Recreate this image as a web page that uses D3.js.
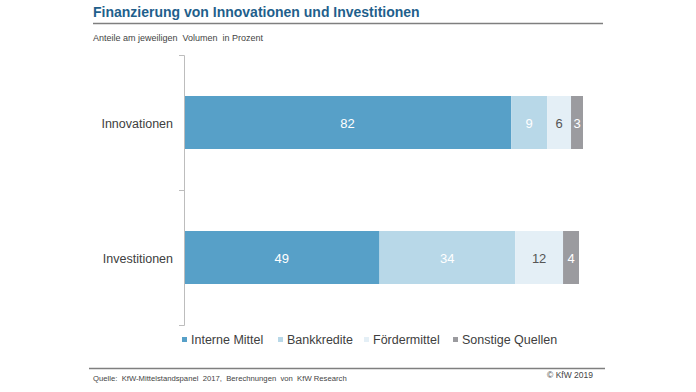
<!DOCTYPE html>
<html>
<head>
<meta charset="utf-8">
<script src="https://cdn.jsdelivr.net/npm/d3@7"></script>
<style>
  body { margin: 0; background: #fff; }
  svg { font-family: "Liberation Sans", Arial, sans-serif; }
</style>
</head>
<body>
<div id="chart"></div>
<script>
(function() {
// data
var categories = ["Innovationen", "Investitionen"];
var seriesNames = ["Interne Mittel", "Bankkredite", "Fördermittel", "Sonstige Quellen"];
var interneMittel = [82, 49];
var bankkredite = [9, 34];
var foerdermittel = [6, 12];
var sonstige = [3, 4];

var colors = ["#57a0c8", "#b8d8e8", "#e4eff6", "#9b9b9f"];
var labelColors = ["#fff", "#fff", "#555", "#fff"];

var width = 696,
    height = 392;

var svg = d3.select("#chart").append("svg")
    .attr("width", width)
    .attr("height", height);

// title + lines
svg.append("text")
    .attr("x", 93)
    .attr("y", 17)
    .style("font-size", "14px")
    .style("font-weight", "bold")
    .style("fill", "#1f5f8c")
    .text("Finanzierung von Innovationen und Investitionen");

svg.append("line")
    .attr("x1", 93).attr("x2", 603)
    .attr("y1", 23.5).attr("y2", 23.5)
    .style("stroke", "#7f7f7f")
    .style("stroke-width", 1.5);

svg.append("text")
    .attr("x", 93)
    .attr("y", 41)
    .style("font-size", "9px")
    .style("fill", "#444")
    .style("white-space", "pre")
    .text("Anteile am jeweiligen  Volumen  in Prozent");

// build stacked table
var rows = categories.map(function(c, i) {
    return {
        cat: c,
        values: [interneMittel[i], bankkredite[i], foerdermittel[i], sonstige[i]]
    };
});

var x = d3.scaleLinear()
    .domain([0, 100])
    .range([184, 583]);

var p = 1 - 53 / 135;
var y = d3.scaleBand()
    .domain(categories)
    .range([55, 325])
    .paddingInner(p)
    .paddingOuter(p / 2);

// bars
rows.forEach(function(r) {
    var acc = 0;
    var g = svg.append("g");
    r.values.forEach(function(v, j) {
        var x0 = x(acc), x1 = x(acc + v);
        g.append("rect")
            .attr("x", x0)
            .attr("y", y(r.cat))
            .attr("width", x1 - x0)
            .attr("height", y.bandwidth())
            .style("fill", colors[j]);
        g.append("text")
            .attr("x", (x0 + x1) / 2)
            .attr("y", y(r.cat) + y.bandwidth() / 2 + 5)
            .attr("text-anchor", "middle")
            .style("font-size", "13px")
            .style("fill", labelColors[j])
            .text(v);
        acc += v;
    });
});

// y axis
var axis = d3.axisLeft(d3.scaleLinear().domain([0, 2]).range([55, 325]))
    .ticks(2)
    .tickSize(5)
    .tickFormat("");
var ag = svg.append("g")
    .attr("transform", "translate(184,0)")
    .call(axis);
ag.selectAll("path, line").style("stroke", "#bdbdbd");

svg.append("g").selectAll("text")
    .data(categories)
    .enter()
    .append("text")
    .attr("x", 173)
    .attr("y", function(d) { return y(d) + y.bandwidth() / 2 + 5; })
    .attr("text-anchor", "end")
    .style("font-size", "12.5px")
    .style("fill", "#404040")
    .text(function(d) { return d; });

// legend
var legendX = [182, 278, 364, 453];
var legend = svg.append("g");
seriesNames.forEach(function(n, i) {
    legend.append("rect")
        .attr("x", legendX[i])
        .attr("y", 337)
        .attr("width", 5)
        .attr("height", 5)
        .style("fill", colors[i]);
    legend.append("text")
        .attr("x", legendX[i] + 9)
        .attr("y", 344)
        .style("font-size", "12.5px")
        .style("fill", "#404040")
        .text(n);
});

// footer
svg.append("line")
    .attr("x1", 89).attr("x2", 605)
    .attr("y1", 368.5).attr("y2", 368.5)
    .style("stroke", "#7f7f7f")
    .style("stroke-width", 1.5);

svg.append("text")
    .attr("x", 93)
    .attr("y", 381)
    .style("font-size", "7.7px")
    .style("fill", "#444")
    .style("white-space", "pre")
    .text("Quelle:  KfW-Mittelstandspanel  2017,  Berechnungen  von  KfW Research");

svg.append("text")
    .attr("x", 593)
    .attr("y", 378)
    .attr("text-anchor", "end")
    .style("font-size", "8.5px")
    .style("fill", "#444")
    .text("© KfW 2019");
})();
</script>
</body>
</html>
